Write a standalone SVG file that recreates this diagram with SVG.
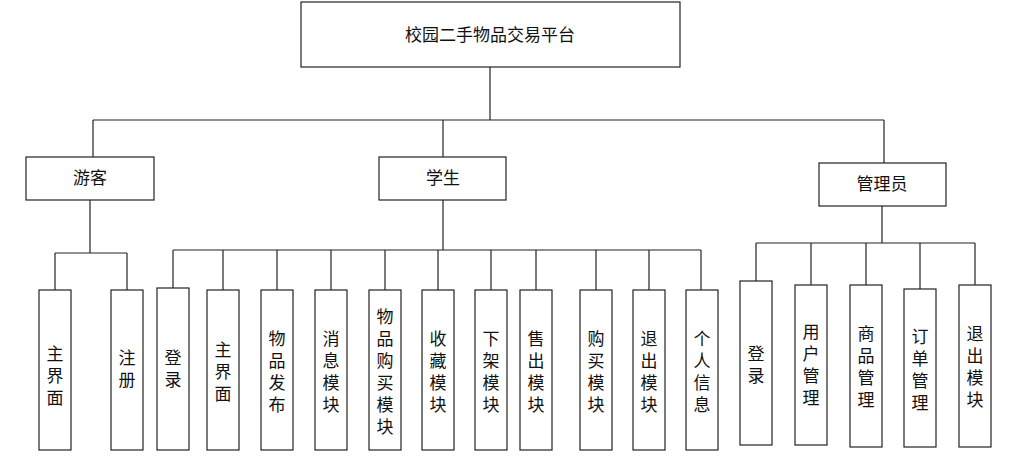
<svg xmlns="http://www.w3.org/2000/svg" width="1024" height="457" viewBox="0 0 1024 457">
<style>
rect{fill:#fff;stroke:#222;stroke-width:1.2}
line{stroke:#222;stroke-width:1.2}
text{font-family:"Noto Sans CJK SC","Liberation Sans",sans-serif;font-size:17px;fill:#111;text-anchor:middle}
.v{writing-mode:vertical-rl;letter-spacing:5px}
</style>
<rect width="1024" height="457" style="stroke:none"/>
<g id="connectors">
<line x1="490" y1="67" x2="490" y2="120"/><line x1="93" y1="120" x2="884" y2="120"/>
<line x1="93" y1="120" x2="93" y2="157"/><line x1="443" y1="120" x2="443" y2="157"/><line x1="884" y1="120" x2="884" y2="163"/>
<line x1="90" y1="200" x2="90" y2="253"/><line x1="55" y1="253" x2="127" y2="253"/>
<line x1="55" y1="253" x2="55" y2="290"/><line x1="127" y1="253" x2="127" y2="290"/>
<line x1="443" y1="200" x2="443" y2="250"/><line x1="173" y1="250" x2="701" y2="250"/>
<line x1="173" y1="250" x2="173" y2="288"/><line x1="223" y1="250" x2="223" y2="290"/><line x1="277" y1="250" x2="277" y2="290"/><line x1="331" y1="250" x2="331" y2="290"/><line x1="385" y1="250" x2="385" y2="290"/><line x1="438" y1="250" x2="438" y2="290"/><line x1="491" y1="250" x2="491" y2="290"/><line x1="536" y1="250" x2="536" y2="290"/><line x1="596" y1="250" x2="596" y2="290"/><line x1="649" y1="250" x2="649" y2="290"/><line x1="701" y1="250" x2="701" y2="290"/>
<line x1="882" y1="206" x2="882" y2="243"/><line x1="756" y1="243" x2="975" y2="243"/>
<line x1="756" y1="243" x2="756" y2="281"/><line x1="811" y1="243" x2="811" y2="285"/><line x1="866" y1="243" x2="866" y2="285"/><line x1="920" y1="243" x2="920" y2="289"/><line x1="975" y1="243" x2="975" y2="285"/>
</g>
<g id="root"><rect x="301" y="2" width="379" height="65"/><text x="490" y="41">校园二手物品交易平台</text></g>
<g id="youke"><rect x="26" y="157" width="128" height="43"/><text x="90" y="184">游客</text></g>
<g id="xuesheng"><rect x="379" y="157" width="127" height="43"/><text x="443" y="184">学生</text></g>
<g id="admin"><rect x="819" y="163" width="127" height="43"/><text x="882" y="190">管理员</text></g>
<g id="y1"><rect x="39" y="290" width="32" height="160"/><text class="v" x="55" y="378">主界面</text></g>
<g id="y2"><rect x="111" y="290" width="32" height="160"/><text class="v" x="127" y="371">注册</text></g>
<g id="s1"><rect x="157" y="288" width="32" height="162"/><text class="v" x="173" y="371">登录</text></g>
<g id="s2"><rect x="207" y="290" width="32" height="160"/><text class="v" x="223" y="374">主界面</text></g>
<g id="s3"><rect x="261" y="290" width="32" height="160"/><text class="v" x="277" y="374">物品发布</text></g>
<g id="s4"><rect x="315" y="290" width="32" height="160"/><text class="v" x="331" y="374">消息模块</text></g>
<g id="s5"><rect x="369" y="290" width="32" height="160"/><text class="v" x="385" y="374">物品购买模块</text></g>
<g id="s6"><rect x="422" y="290" width="32" height="160"/><text class="v" x="438" y="374">收藏模块</text></g>
<g id="s7"><rect x="475" y="290" width="32" height="160"/><text class="v" x="491" y="374">下架模块</text></g>
<g id="s8"><rect x="520" y="290" width="32" height="160"/><text class="v" x="536" y="374">售出模块</text></g>
<g id="s9"><rect x="580" y="290" width="32" height="160"/><text class="v" x="596" y="374">购买模块</text></g>
<g id="s10"><rect x="633" y="290" width="32" height="160"/><text class="v" x="649" y="374">退出模块</text></g>
<g id="s11"><rect x="686" y="290" width="32" height="160"/><text class="v" x="702" y="374">个人信息</text></g>
<g id="a1"><rect x="740" y="281" width="32" height="164"/><text class="v" x="756" y="367">登录</text></g>
<g id="a2"><rect x="795" y="285" width="32" height="160"/><text class="v" x="811" y="367">用户管理</text></g>
<g id="a3"><rect x="850" y="285" width="32" height="162"/><text class="v" x="866" y="369">商品管理</text></g>
<g id="a4"><rect x="904" y="289" width="32" height="158"/><text class="v" x="920" y="372">订单管理</text></g>
<g id="a5"><rect x="959" y="285" width="32" height="162"/><text class="v" x="975" y="369">退出模块</text></g>
</svg>
